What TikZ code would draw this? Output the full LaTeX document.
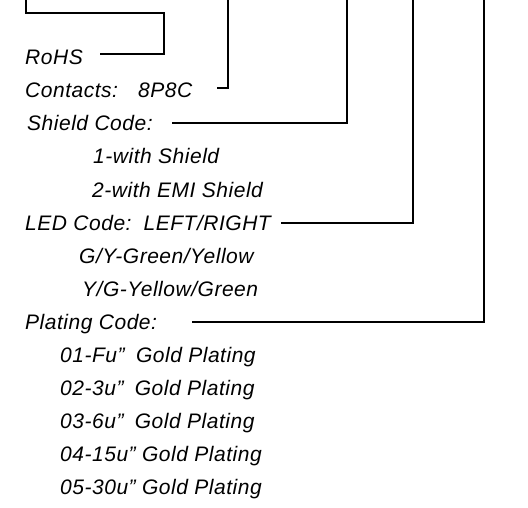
\documentclass[tikz,border=0pt]{standalone}
\usepackage{fontspec}
\setmainfont{Liberation Sans}[LetterSpace=2.5]
\begin{document}
\begin{tikzpicture}[x=1pt,y=-1pt,
  lbl/.style={anchor=base west,inner sep=0pt,font=\itshape\fontsize{21}{21}\selectfont},
  lead/.style={line width=1.5pt,line join=miter}]
\useasboundingbox (0,0) rectangle (528,508);
\node[lbl] (rohs) at (25,65) {RoHS};
\node[lbl] (cont) at (25,98) {Contacts:\hspace{20pt}8P8C};
\node[lbl] (shield) at (27,131) {Shield Code:};
\node[lbl] (s1) at (93,164) {1-with Shield};
\node[lbl] (s2) at (92,197) {2-with EMI Shield};
\node[lbl] (led) at (25,230) {LED Code:\hspace{12pt}LEFT/RIGHT};
\node[lbl] (gy) at (79,263) {G/Y-Green/Yellow};
\node[lbl] (yg) at (82,296) {Y/G-Yellow/Green};
\node[lbl] (plat) at (25,329) {Plating Code:};
\node[lbl] (p1) at (60,362) {01-Fu"\hspace{5pt} Gold Plating};
\node[lbl] (p2) at (60,395) {02-3u"\hspace{5pt} Gold Plating};
\node[lbl] (p3) at (60,428) {03-6u"\hspace{5pt} Gold Plating};
\node[lbl] (p4) at (60,461) {04-15u" Gold Plating};
\node[lbl] (p5) at (60,494) {05-30u" Gold Plating};
\coordinate (t1) at (26,0);
\coordinate (t2) at (228,0);
\coordinate (t3) at (347,0);
\coordinate (t4) at (413,0);
\coordinate (t5) at (484,0);
\coordinate (e1) at (100,54);
\coordinate (e2) at (217,88);
\coordinate (e3) at (172,123);
\coordinate (e4) at (281,223);
\coordinate (e5) at (192,322);
\draw[lead] (t1) |- (164,13) |- (e1);
\draw[lead] (t2) |- (e2);
\draw[lead] (t3) |- (e3);
\draw[lead] (t4) |- (e4);
\draw[lead] (t5) |- (e5);
\end{tikzpicture}
\end{document}
